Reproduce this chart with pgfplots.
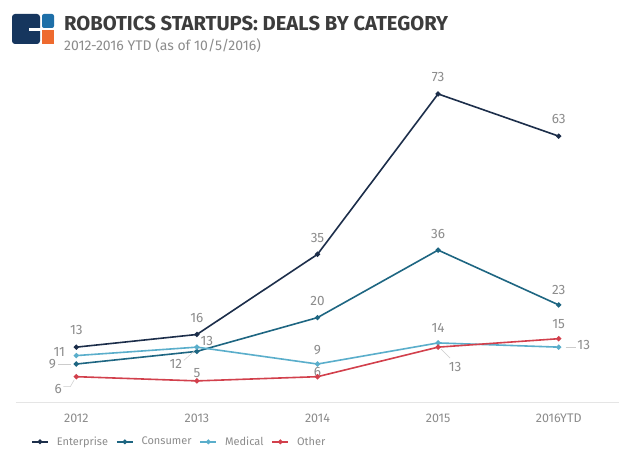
\documentclass[border=0pt]{standalone}
\usepackage{fontspec}
\setmainfont{Fira Sans}
\usepackage{pgfplots}
\pgfplotsset{compat=1.18}
\definecolor{cEnt}{HTML}{1C2E4A}
\definecolor{cCon}{HTML}{1E6682}
\definecolor{cMed}{HTML}{5AAECB}
\definecolor{cOth}{HTML}{D2404C}
\definecolor{lblgray}{HTML}{8C8C8C}
\definecolor{titlegray}{HTML}{3C3C3C}
\definecolor{logoNavy}{HTML}{16365E}
\definecolor{logoBlue}{HTML}{1E6FA8}
\definecolor{logoOrange}{HTML}{EE6A2E}
\begin{document}
\begin{tikzpicture}[x=1pt,y=1pt]
\path[use as bounding box, fill=white] (0,0) rectangle (636,461);
% logo
\fill[logoNavy, rounded corners=3pt] (12,447) rectangle (40,417);
\fill[white] (29,432.5) rectangle (41,429.5);
\fill[logoBlue, rounded corners=2pt] (42,447) rectangle (54,433);
\fill[logoOrange] (42,431) rectangle (54,417);
% titles
\node[anchor=base west, inner sep=0, font=\fontsize{20.2}{24}\selectfont\bfseries, text=titlegray] at (64,430) {ROBOTICS STARTUPS: DEALS BY CATEGORY};
\node[anchor=base west, inner sep=0, font=\fontsize{14}{16}\selectfont, text=lblgray] at (64,410) {2012-2016 YTD (as of 10/5/2016)};
\begin{axis}[
  at={(16pt,59pt)}, anchor=south west, scale only axis,
  width=603pt, height=337.6pt,
  xmin=-0.5, xmax=4.5, ymin=0, ymax=80,
  axis y line=none, axis x line=bottom,
  x axis line style={-, draw=black!10, line width=1pt},
  xtick={0,1,2,3,4}, xticklabels={2012,2013,2014,2015,2016YTD},
  major tick length=0pt,
  xticklabel style={font=\fontsize{12.5}{14}\selectfont, text=lblgray, yshift=-8pt},
  clip=false,
  every axis plot/.append style={line width=1.6pt, mark=*, mark size=1.7pt},
  legend style={at={(0.025,-0.118)}, anchor=west, draw=none, fill=none,
    font=\fontsize{11}{13}\selectfont, text=lblgray, legend columns=4,
    column sep=6pt, inner sep=0pt},
  legend image code/.code={\draw[#1, line width=1.5pt] (0pt,0pt) -- (16pt,0pt); \draw[#1, mark size=1.5pt] plot coordinates {(8pt,0pt)};},
]
\addplot[color=cEnt] coordinates {(0,13) (1,16) (2,35) (3,73) (4,63)};
\addlegendentry{Enterprise}
\addplot[color=cCon] coordinates {(0,9) (1,12) (2,20) (3,36) (4,23)};
\addlegendentry{Consumer}
\addplot[color=cMed] coordinates {(0,11) (1,13) (2,9) (3,14) (4,13)};
\addlegendentry{Medical}
\addplot[color=cOth] coordinates {(0,6) (1,5) (2,6) (3,13) (4,15)};
\addlegendentry{Other}
\begin{scope}[every node/.style={font=\fontsize{13.5}{15}\selectfont, text=lblgray, inner sep=0pt}]
% Enterprise
\node[yshift=17pt] at (axis cs:0,13) {13};
\node[yshift=16pt] at (axis cs:1,16) {16};
\node[yshift=16pt] at (axis cs:2,35) {35};
\node[yshift=17pt] at (axis cs:3,73) {73};
\node[yshift=17pt] at (axis cs:4,63) {63};
% Consumer
\node[xshift=-24pt] at (axis cs:0,9) {9};
\node[xshift=-21pt, yshift=-13pt] at (axis cs:1,12) {12};
\node[yshift=17pt] at (axis cs:2,20) {20};
\node[yshift=16pt] at (axis cs:3,36) {36};
\node[yshift=15pt] at (axis cs:4,23) {23};
% Medical
\node[xshift=-17pt, yshift=4pt] at (axis cs:0,11) {11};
\node[xshift=10pt, yshift=6pt] at (axis cs:1,13) {13};
\node[yshift=14pt] at (axis cs:2,9) {9};
\node[yshift=15pt] at (axis cs:3,14) {14};
\node[xshift=25pt, yshift=2pt] at (axis cs:4,13) {13};
% Other
\node[xshift=-18pt, yshift=-12pt] at (axis cs:0,6) {6};
\node[yshift=8pt] at (axis cs:1,5) {5};
\node[yshift=5pt] at (axis cs:2,6) {6};
\node[xshift=17pt, yshift=-20pt] at (axis cs:3,13) {13};
\node[yshift=15pt] at (axis cs:4,15) {15};
\end{scope}
\begin{scope}[draw=black!20, line width=0.5pt]
\draw ([xshift=-18pt]axis cs:0,9) -- ([xshift=-5pt]axis cs:0,9);
\draw ([xshift=-13pt,yshift=-9pt]axis cs:1,12) -- ([xshift=-3pt]axis cs:1,12);
\draw ([xshift=7pt,yshift=0pt]axis cs:4,13) -- ([xshift=17pt,yshift=0pt]axis cs:4,13);
\draw ([xshift=-13pt,yshift=-10pt]axis cs:0,6) -- ([xshift=-6pt,yshift=-10pt]axis cs:0,6) -- ([xshift=-2pt,yshift=-3pt]axis cs:0,6);
\draw ([xshift=3pt,yshift=-2pt]axis cs:3,13) -- ([xshift=12pt,yshift=-11pt]axis cs:3,13);
\end{scope}
\end{axis}
\end{tikzpicture}
\end{document}
